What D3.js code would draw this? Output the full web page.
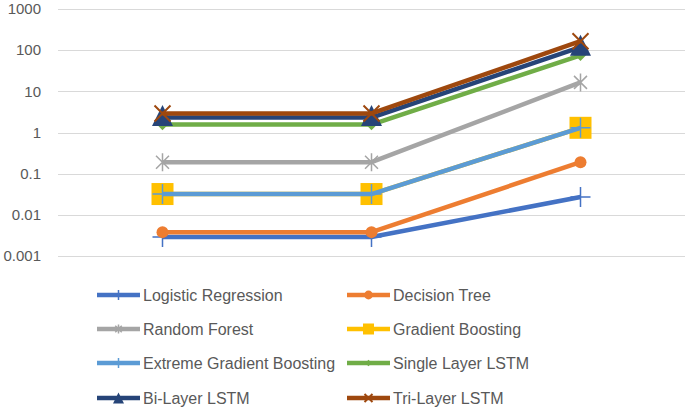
<!DOCTYPE html>
<html><head><meta charset="utf-8">
<script src="https://cdn.jsdelivr.net/npm/d3@7"></script>
<style>body{margin:0;background:#fff}svg{display:block}</style>
</head><body>
<script>
const categories = ["c1", "c2", "c3"];
const yTicks = [0.001, 0.01, 0.1, 1, 10, 100, 1000];
const yTickLabels = ["0.001", "0.01", "0.1", "1", "10", "100", "1000"];
const seriesNames = ["Logistic Regression", "Decision Tree", "Random Forest", "Gradient Boosting",
  "Extreme Gradient Boosting", "Single Layer LSTM", "Bi-Layer LSTM", "Tri-Layer LSTM"];
const logisticRegression = [0.0029, 0.0029, 0.027];
const decisionTree = [0.0038, 0.0038, 0.19];
const randomForest = [0.19, 0.19, 16.5];
const gradientBoosting = [0.032, 0.032, 1.3];
const extremeGradientBoosting = [0.032, 0.032, 1.3];
const singleLayerLSTM = [1.56, 1.56, 75];
const biLayerLSTM = [2.3, 2.3, 118];
const triLayerLSTM = [2.9, 2.9, 165];
const seriesValues = [logisticRegression, decisionTree, randomForest, gradientBoosting,
  extremeGradientBoosting, singleLayerLSTM, biLayerLSTM, triLayerLSTM];
const colors = ["#4472C4", "#ED7D31", "#A5A5A5", "#FFC000", "#5B9BD5", "#70AD47", "#264478", "#9E480E"];
const markers = ["plus", "circle", "star", "square", "plus", "diamond", "triangle", "x"];

const W = 685, H = 408;
const svg = d3.select("body").append("svg").attr("width", W).attr("height", H);
const x = d3.scaleBand().domain(categories).range([58, 685]);
const y = d3.scaleLog().domain([0.001, 1000]).range([256, 9]);
const font = "'Liberation Sans', Arial, sans-serif";

// gridlines
svg.append("g").selectAll("line").data(yTicks).join("line")
  .attr("x1", 58).attr("x2", 685)
  .attr("y1", d => Math.round(y(d)) + 0.5).attr("y2", d => Math.round(y(d)) + 0.5)
  .attr("stroke", "#d9d9d9").attr("stroke-width", 1);

// y axis labels
const yAxis = d3.axisLeft(y).tickValues(yTicks).tickFormat((d, i) => yTickLabels[i]).tickSize(0).tickPadding(0);
const ga = svg.append("g").attr("transform", "translate(41,0)").call(yAxis);
ga.select(".domain").remove();
ga.selectAll("text").attr("font-family", font).attr("font-size", 15).attr("fill", "#595959");

function drawMarker(g, type, cx, cy, color, s) {
  const h = s / 2;
  if (type === "plus") {
    g.append("path").attr("d", `M${cx - h},${cy}H${cx + h}M${cx},${cy - h}V${cy + h}`)
      .attr("stroke", color).attr("stroke-width", 1.5).attr("fill", "none");
  } else if (type === "circle") {
    g.append("circle").attr("cx", cx).attr("cy", cy).attr("r", h * 0.8).attr("fill", color);
  } else if (type === "star") {
    const d = h * 0.72;
    g.append("path").attr("d", `M${cx - d},${cy - d}L${cx + d},${cy + d}M${cx + d},${cy - d}L${cx - d},${cy + d}M${cx},${cy - h}V${cy + h}`)
      .attr("stroke", color).attr("stroke-width", 1.5).attr("fill", "none");
  } else if (type === "square") {
    g.append("rect").attr("x", cx - h).attr("y", cy - h).attr("width", s).attr("height", s).attr("fill", color);
  } else if (type === "diamond") {
    const d = h * 0.7;
    g.append("path").attr("d", `M${cx},${cy - d}L${cx + d},${cy}L${cx},${cy + d}L${cx - d},${cy}Z`).attr("fill", color);
  } else if (type === "triangle") {
    g.append("path").attr("d", `M${cx},${cy - h}L${cx + h},${cy + h}L${cx - h},${cy + h}Z`).attr("fill", color);
  } else if (type === "x") {
    const d = h * 0.8;
    g.append("path").attr("d", `M${cx - d},${cy - d}L${cx + d},${cy + d}M${cx + d},${cy - d}L${cx - d},${cy + d}`)
      .attr("stroke", color).attr("stroke-width", 2).attr("fill", "none");
  }
}

const markerSize = [20, 15, 18, 22, 20, 16, 21, 20];
const line = d3.line().x((d, i) => x(categories[i]) + x.bandwidth() / 2).y(d => y(d));
seriesValues.forEach((vals, si) => {
  const g = svg.append("g");
  g.append("path").datum(vals).attr("d", line).attr("fill", "none")
    .attr("stroke", colors[si]).attr("stroke-width", 4.5).attr("stroke-linejoin", "round");
  vals.forEach((v, i) => {
    const dy = markers[si] === "triangle" ? -2 : 0;
    drawMarker(g, markers[si], x(categories[i]) + x.bandwidth() / 2, y(v) + dy, colors[si], markerSize[si]);
  });
});

// legend
const legRows = [295, 329, 363, 398];
const legCols = [97, 347];
const legMarkerSize = [10, 11, 9, 11, 10, 9, 11, 10];
seriesNames.forEach((name, si) => {
  const col = si % 2, row = Math.floor(si / 2);
  const lx = legCols[col], ly = legRows[row];
  const g = svg.append("g");
  g.append("line").attr("x1", lx).attr("x2", lx + 43).attr("y1", ly).attr("y2", ly)
    .attr("stroke", colors[si]).attr("stroke-width", 4.5);
  drawMarker(g, markers[si], lx + 21.5, ly, colors[si], legMarkerSize[si]);
  g.append("text").attr("x", lx + 46).attr("y", ly).attr("dy", "0.35em")
    .attr("font-family", font).attr("font-size", 16).attr("fill", "#595959").text(name);
});
</script>
</body></html>
